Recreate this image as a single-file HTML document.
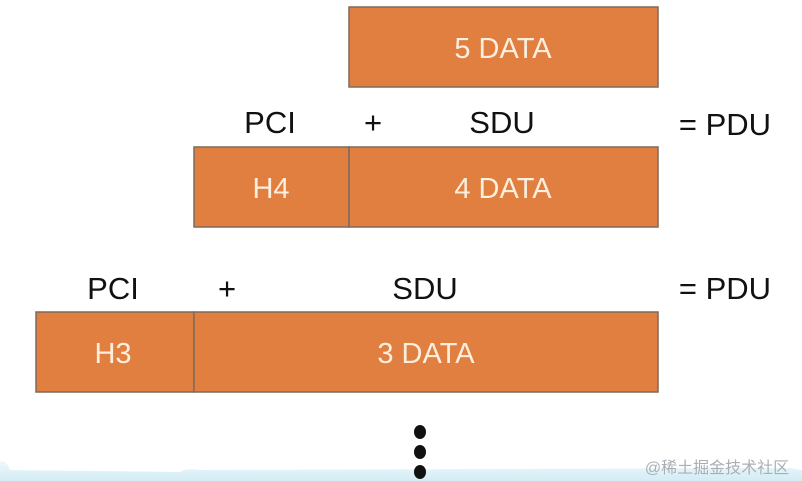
<!DOCTYPE html>
<html><head><style>
html,body{margin:0;padding:0;background:#fff;width:802px;height:481px;overflow:hidden}
svg{display:block}
text{font-family:"Liberation Sans",sans-serif}
</style></head><body>
<svg width="802" height="481" viewBox="0 0 802 481" xmlns="http://www.w3.org/2000/svg">
<defs><linearGradient id="g" x1="0" y1="0" x2="0" y2="1"><stop offset="0" stop-color="#eef8fb"/><stop offset="1" stop-color="#d3ecf5"/></linearGradient></defs>
<path d="M0 462 Q5 458 10 470 L180 472 Q185 468 200 470 L790 468 L802 470 L802 481 L0 481Z" fill="url(#g)"/>
<g fill="#e07f3f" stroke="#7f6a5d" stroke-width="1.5">
<rect x="349" y="7" width="309" height="80"/>
<rect x="194" y="147" width="155" height="80"/>
<rect x="349" y="147" width="309" height="80"/>
<rect x="36" y="312" width="158" height="80"/>
<rect x="194" y="312" width="464" height="80"/>
</g>
<g fill="#fdeedd" font-size="29" text-anchor="middle">
<text x="503" y="58">5 DATA</text>
<text x="271" y="198">H4</text>
<text x="503" y="198">4 DATA</text>
<text x="113" y="363">H3</text>
<text x="426" y="363">3 DATA</text>
</g>
<g fill="#111" font-size="31" text-anchor="middle">
<text x="270" y="133">PCI</text>
<text x="373" y="133">+</text>
<text x="502" y="133">SDU</text>
<text x="725" y="135">= PDU</text>
<text x="113" y="299">PCI</text>
<text x="227" y="299">+</text>
<text x="425" y="299">SDU</text>
<text x="725" y="299">= PDU</text>
</g>
<g fill="#111"><ellipse cx="420" cy="432" rx="6" ry="7"/><ellipse cx="420" cy="452" rx="6" ry="7"/><ellipse cx="420" cy="472" rx="6" ry="7"/></g>
<text x="717" y="473" font-size="16" fill="#a8b0b5" text-anchor="middle" style="font-family:'Liberation Sans','Noto Sans CJK SC',sans-serif">@稀土掘金技术社区</text>
</svg>
</body></html>
